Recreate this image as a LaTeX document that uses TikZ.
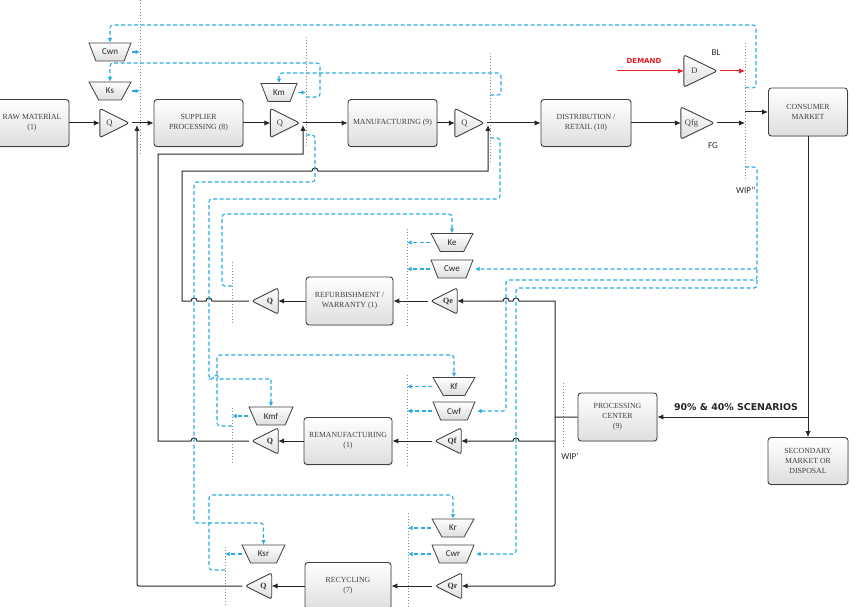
\documentclass[tikz,border=0pt]{standalone}
\usepackage{fontspec}
\setmainfont{Liberation Serif}
\newfontfamily\lblfont{Carlito}
\newfontfamily\headfont{DejaVu Sans}
\usetikzlibrary{arrows.meta,shadows,shapes.geometric}

\definecolor{sigblue}{RGB}{41,171,226}
\definecolor{demred}{RGB}{235,28,36}

\tikzset{
  stage/.style={draw=black!75, line width=0.9pt, rounded corners=3pt, top color=white, bottom color=black!13,
    drop shadow={shadow xshift=1pt, shadow yshift=-1pt, opacity=0.2}, align=center, text=black!75,
    font=\fontsize{7.8}{9.8}\selectfont, inner sep=1pt},
  hold/.style={inner sep=0pt, minimum width=29pt, minimum height=29pt},
  holdbig/.style={inner sep=0pt, minimum width=33pt, minimum height=32pt},
  holdsmall/.style={inner sep=0pt, minimum width=26pt, minimum height=26pt},
  tri/.style={draw=black!75, line width=0.9pt, rounded corners=2.5pt, top color=white, bottom color=black!13},
  cost/.style={trapezium, trapezium stretches=true, shape border rotate=180, trapezium left angle=61,
    trapezium right angle=61, minimum width=42pt, minimum height=18pt, inner sep=1pt,
    draw=black!75, line width=0.8pt, top color=white, bottom color=black!13,
    font=\lblfont\fontsize{9}{10}\selectfont, text=black!85},
  qlabel/.style={font=\fontsize{8.5}{9}\selectfont, text=black!75},
  qbold/.style={font=\bfseries\fontsize{8}{9}\selectfont, text=black!80},
  lbl/.style={font=\lblfont\fontsize{9}{10}\selectfont, text=black!85},
  wip/.style={draw=black!45, line width=1pt, dotted},
  flow/.style={draw=black!85, line width=1pt, -{Latex[length=6pt,width=5.5pt]}},
  sig/.style={draw=sigblue, line width=1.1pt, dash pattern=on 4pt off 2.5pt, rounded corners=3pt,
    -{Latex[length=4.5pt,width=4.5pt]}},
}

\begin{document}
\begin{tikzpicture}[x=1pt,y=-1pt]
    \useasboundingbox (0,0) rectangle (856,607);
    % stages
    \node[stage, minimum width=74pt, minimum height=47pt] (raw) at (32,123) {RAW MATERIAL\\(1)};
    \node[stage, minimum width=89pt, minimum height=47pt] (supp) at (198.5,123) {SUPPLIER\\PROCESSING (8)};
    \node[stage, minimum width=89pt, minimum height=47pt] (manu) at (392.5,123) {MANUFACTURING (9)};
    \node[stage, minimum width=90pt, minimum height=47pt] (dist) at (586,123) {DISTRIBUTION /\\RETAIL (10)};
    \node[stage, minimum width=79pt, minimum height=48pt] (cons) at (808,112) {CONSUMER\\MARKET};
    \node[stage, minimum width=87pt, minimum height=48pt] (refu) at (349.5,301) {REFURBISHMENT /\\WARRANTY (1)};
    \node[stage, minimum width=88pt, minimum height=47pt] (rema) at (348,441) {REMANUFACTURING\\(1)};
    \node[stage, minimum width=86pt, minimum height=47pt] (recy) at (348,586) {RECYCLING\\(7)};
    \node[stage, minimum width=79pt, minimum height=48pt] (proc) at (617.5,417) {PROCESSING\\CENTER\\(9)};
    \node[stage, minimum width=80pt, minimum height=47pt] (seco) at (808,461) {SECONDARY\\MARKET OR\\DISPOSAL};

    % buffers pointing right
    \node[hold] (qraw) at (114.5,123) {};
    \draw[tri] (qraw.north west) -- (qraw.east) -- (qraw.south west) -- cycle;
    \node[qlabel] (qrawl) at ([xshift=-5pt]qraw.center) {Q};
    \node[hold] (qsup) at (285,123) {};
    \draw[tri] (qsup.north west) -- (qsup.east) -- (qsup.south west) -- cycle;
    \node[qlabel] (qsupl) at ([xshift=-5pt]qsup.center) {Q};
    \node[hold] (qman) at (469.5,123) {};
    \draw[tri] (qman.north west) -- (qman.east) -- (qman.south west) -- cycle;
    \node[qlabel] (qmanl) at ([xshift=-5pt]qman.center) {Q};
    \node[holdbig] (qfg) at (697.5,123) {};
    \draw[tri] (qfg.north west) -- (qfg.east) -- (qfg.south west) -- cycle;
    \node[qlabel] (qfgl) at ([xshift=-6pt]qfg.center) {Qfg};
    \node[holdbig] (qd) at (700.5,71) {};
    \draw[tri] (qd.north west) -- (qd.east) -- (qd.south west) -- cycle;
    \node[qlabel] (qdl) at ([xshift=-6pt]qd.center) {D};

    % buffers pointing left
    \node[holdsmall] (qre) at (265,301) {};
    \draw[tri] (qre.north east) -- (qre.west) -- (qre.south east) -- cycle;
    \node[qbold] (qrel) at ([xshift=5pt]qre.center) {Q};
    \node[holdsmall] (qe) at (444,301) {};
    \draw[tri] (qe.north east) -- (qe.west) -- (qe.south east) -- cycle;
    \node[qbold] (qel) at ([xshift=4pt]qe.center) {Qe};
    \node[holdsmall] (qrm) at (265,441) {};
    \draw[tri] (qrm.north east) -- (qrm.west) -- (qrm.south east) -- cycle;
    \node[qbold] (qrml) at ([xshift=5pt]qrm.center) {Q};
    \node[holdsmall] (qf) at (448,441) {};
    \draw[tri] (qf.north east) -- (qf.west) -- (qf.south east) -- cycle;
    \node[qbold] (qfl) at ([xshift=4pt]qf.center) {Qf};
    \node[holdsmall] (qry) at (258.5,586) {};
    \draw[tri] (qry.north east) -- (qry.west) -- (qry.south east) -- cycle;
    \node[qbold] (qryl) at ([xshift=5pt]qry.center) {Q};
    \node[holdsmall] (qr) at (448.5,586) {};
    \draw[tri] (qr.north east) -- (qr.west) -- (qr.south east) -- cycle;
    \node[qbold] (qrl) at ([xshift=4pt]qr.center) {Qr};

    % cost blocks
    \node[cost] (cwn) at (110,52) {Cwn};
    \node[cost] (ks) at (110,91) {Ks};
    \node[cost, minimum width=36pt] (km) at (279,92.5) {Km};
    \node[cost] (ke) at (452,242.5) {Ke};
    \node[cost] (cwe) at (452,269) {Cwe};
    \node[cost] (kf) at (454,386.5) {Kf};
    \node[cost] (cwf) at (454,411) {Cwf};
    \node[cost, minimum width=44pt] (kmf) at (271,416) {Kmf};
    \node[cost] (kr) at (453,528) {Kr};
    \node[cost] (cwr) at (453,554) {Cwr};
    \node[cost, minimum width=43pt] (ksr) at (263.5,554) {Ksr};

    % wip lines
    \coordinate (s1t) at (140,0);    \coordinate (s1b) at (140,155);
    \coordinate (s2t) at (306,37);   \coordinate (s2b) at (306,147);
    \coordinate (s3t) at (490,53);   \coordinate (s3b) at (490,163);
    \coordinate (s4t) at (745,43);   \coordinate (s4b) at (745,180);
    \coordinate (s5t) at (232,262);  \coordinate (s5b) at (232,325);
    \coordinate (s6t) at (407,229);  \coordinate (s6b) at (407,327);
    \coordinate (s7t) at (232,408);  \coordinate (s7b) at (232,463);
    \coordinate (s8t) at (407,375);  \coordinate (s8b) at (407,467);
    \coordinate (s9t) at (225,547);  \coordinate (s9b) at (225,607);
    \coordinate (s10t) at (408,513); \coordinate (s10b) at (408,607);
    \coordinate (s11t) at (563,383); \coordinate (s11b) at (563,447);
    \foreach \s in {s1,s2,s3,s4,s5,s6,s7,s8,s9,s10,s11}
        \draw[wip] (\s t) -- (\s b);

    % labels
    \node[lbl] (bl) at (716,53) {BL};
    \node[lbl] (fg) at (713,146) {FG};
    \node[lbl] (wipa) at (746,190) {WIP’’};
    \node[lbl] (wipb) at (570,456) {WIP’};
    \node[font=\headfont\bfseries\fontsize{7}{8}\selectfont, text=demred] (demand) at (644,61) {DEMAND};
    \node[font=\headfont\bfseries\fontsize{9.4}{10}\selectfont, text=black!85] (scen) at (736,407) {90\% \& 40\% SCENARIOS};

    % free ends
    \coordinate (m1) at (137,125);
    \coordinate (m2) at (303,125);
    \coordinate (m3) at (488,125);
    \coordinate (split) at (555,417);
    \coordinate (dem) at (617,71);

    % forward flow
    \draw[flow] (raw.east) -- (qraw.west);
    \draw[flow] ([xshift=3pt]qraw.east) -- (supp.west);
    \draw[flow] (supp.east) -- (qsup.west);
    \draw[flow] ([xshift=3pt]qsup.east) -- (manu.west);
    \draw[flow] (manu.east) -- (qman.west);
    \draw[flow] ([xshift=3pt]qman.east) -- (dist.west);
    \draw[flow] (dist.east) -- (qfg.west);
    \draw[flow] ([xshift=3pt]qfg.east) -- (s4t |- qfg);
    \draw[flow] (s4t |- cons) -- (cons.west);
    \draw[flow, draw=demred] (dem) -- (qd.west);
    \draw[flow, draw=demred] ([xshift=3pt]qd.east) -- (s4t |- qd);
    \draw[flow] (cons.south) -- (seco.north);
    \draw[flow] (cons.south |- proc) -- (proc.east);

    % return flow
    \draw[flow] (proc.west) -- (split) -- (split |- qe) -- (519,301) .. controls (519,297) and (513,297) .. (513,301)
        -- (509,301) .. controls (509,297) and (503,297) .. (503,301) -- (qe.east);
    \draw[flow] (split) -- (split |- qf) -- (519,441) .. controls (519,437) and (513,437) .. (513,441) -- (qf.east);
    \draw[flow, rounded corners=2pt] (split |- qf) -- (split |- qr) -- (qr.east);
    \draw[flow] ([xshift=-3pt]qe.west) -- (refu.east);
    \draw[flow] (refu.west) -- (qre.east);
    \draw[flow] ([xshift=-3pt]qre.west) -- (212,301) .. controls (212,297) and (206,297) .. (206,301)
        -- (197,301) .. controls (197,297) and (191,297) .. (191,301) -- (182,301) -- (182,171)
        -- (312,171) .. controls (312,167) and (318,167) .. (318,171) -- (m3 |- 0,171) -- (m3);
    \draw[flow] ([xshift=-3pt]qf.west) -- (rema.east);
    \draw[flow] (rema.west) -- (qrm.east);
    \draw[flow] ([xshift=-3pt]qrm.west) -- (197,441) .. controls (197,437) and (191,437) .. (191,441)
        -- (158,441) -- (158,154) -- (m2 |- 0,154) -- (m2);
    \draw[flow] ([xshift=-3pt]qr.west) -- (recy.east);
    \draw[flow] (recy.west) -- (qry.east);
    \draw[flow, rounded corners=2pt] ([xshift=-3pt]qry.west) -- (m1 |- qry) -- (m1);

    % information lines
    \draw[sig] (s4t |- cons.north) -- (756,88) -- (756,25) -- (110,25) -- (cwn.north);
    \draw[sig] ([xshift=22pt]cwn.center) -- (s1t |- cwn);
    \draw[sig] (s2t |- 0,97) -- (320,97) -- (320,63) -- (110,63) -- (ks.north);
    \draw[sig] ([xshift=22pt]ks.center) -- (s1t |- ks);
    \draw[sig] (s3t |- 0,95) -- (501,95) -- (501,73) -- (279,73) -- (km.north);
    \draw[sig] ([xshift=19pt]km.center) -- (s2t |- km);
    \draw[sig] (s2t |- 0,135) -- (315,135) -- (315,182) -- (194,182) -- (194,523) -- (263.5,523) -- (ksr.north);
    \draw[sig] ([xshift=-22pt]ksr.center) -- (s9t |- ksr);
    \draw[sig] (s3t |- 0,138) -- (500,138) -- (500,199) -- (209,199) -- (209,379) -- (214,379)
        [sharp corners] .. controls (214,375) and (220,375) .. (220,379) -- (271,379) -- (kmf.north);
    \draw[sig] ([xshift=-23pt]kmf.center) -- (s7t |- kmf);
    \draw[sig] (s5t |- 0,286) -- (222,286) -- (222,214) -- (452,214) -- (ke.north);
    \draw[sig] ([xshift=-22pt]ke.center) -- (s6t |- ke);
    \draw[sig] (s7t |- 0,426) -- (217,426) -- (217,355) -- (454,355) -- (kf.north);
    \draw[sig] ([xshift=-22pt]kf.center) -- (s8t |- kf);
    \draw[sig] (s9t |- 0,570) -- (209,570) -- (209,495) -- (453,495) -- (kr.north);
    \draw[sig] ([xshift=-22pt]kr.center) -- (s10t |- kr);
    \draw[sig] (s4t |- 0,167) -- (757,167) -- (757,269) -- ([xshift=23pt]cwe.center);
    \draw[sig] (757,269) -- (757,280) -- (506,280) -- (506,411) -- ([xshift=23pt]cwf.center);
    \draw[sig] (757,280) -- (757,288) -- (516,288) -- (516,554) -- ([xshift=23pt]cwr.center);
    \draw[sig] ([xshift=-22pt]cwe.center) -- (s6t |- cwe);
    \draw[sig] ([xshift=-22pt]cwf.center) -- (s8t |- cwf);
    \draw[sig] ([xshift=-22pt]cwr.center) -- (s10t |- cwr);
\end{tikzpicture}
\end{document}
